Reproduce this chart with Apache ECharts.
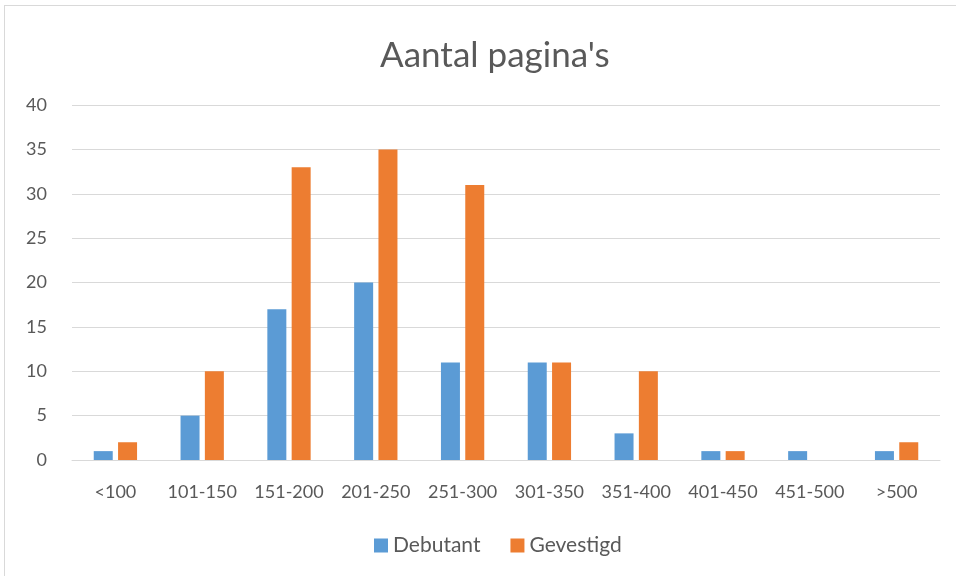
<!DOCTYPE html>
<html>
<head>
<meta charset="utf-8">
<script src="https://cdn.jsdelivr.net/npm/echarts@6/dist/echarts.min.js"></script>
<style>
  html, body { margin: 0; padding: 0; background: #fff; }
  #frame { position: absolute; left: 4px; top: 5px; width: 960px; height: 580px; border: 1px solid #d9d9d9; box-sizing: border-box; }
  #chart { position: absolute; left: 0; top: 0; width: 956px; height: 576px; }
</style>
</head>
<body>
<div id="frame"></div>
<div id="chart"></div>
<script>
  // categorieen en waarden
  var categories = ['<100', '101-150', '151-200', '201-250', '251-300', '301-350', '351-400', '401-450', '451-500', '>500'];
  var debutant = [1, 5, 17, 20, 11, 11, 3, 1, 1, 1];
  var gevestigd = [2, 10, 33, 35, 31, 11, 10, 1, 0, 2];
  var yTicks = [0, 5, 10, 15, 20, 25, 30, 35, 40];

  var chart = echarts.init(document.getElementById('chart'));
  var font = 'Lato, "Open Sans", sans-serif';
  chart.setOption({
    animation: false,
    title: {
      text: "Aantal pagina's",
      left: 375,
      top: 33,
      textStyle: { fontFamily: font, fontSize: 35, fontWeight: 'normal', color: '#595959' }
    },
    legend: {
      bottom: 15,
      left: 369,
      itemWidth: 14,
      itemHeight: 14,
      itemGap: 30,
      icon: 'rect',
      textStyle: { fontFamily: font, fontSize: 21, color: '#595959' },
      data: ['Debutant', 'Gevestigd']
    },
    grid: { left: 72, right: 16, top: 105, bottom: 116 },
    xAxis: {
      type: 'category',
      data: categories,
      axisLine: { lineStyle: { color: '#d9d9d9' } },
      axisTick: { show: false },
      axisLabel: { fontFamily: font, fontSize: 18, color: '#595959', margin: 23, interval: 0 }
    },
    yAxis: {
      type: 'value',
      min: yTicks[0],
      max: yTicks[yTicks.length - 1],
      interval: 5,
      axisLine: { show: false },
      axisTick: { show: false },
      splitLine: { lineStyle: { color: '#d9d9d9', width: 1 } },
      axisLabel: { fontFamily: font, fontSize: 18, color: '#595959', margin: 25 }
    },
    series: [
      {
        name: 'Debutant',
        type: 'bar',
        data: debutant,
        barWidth: 19,
        barGap: '28%',
        itemStyle: { color: '#5b9bd5' }
      },
      {
        name: 'Gevestigd',
        type: 'bar',
        data: gevestigd,
        barWidth: 19,
        itemStyle: { color: '#ed7d31' }
      }
    ]
  });
</script>
</body>
</html>
